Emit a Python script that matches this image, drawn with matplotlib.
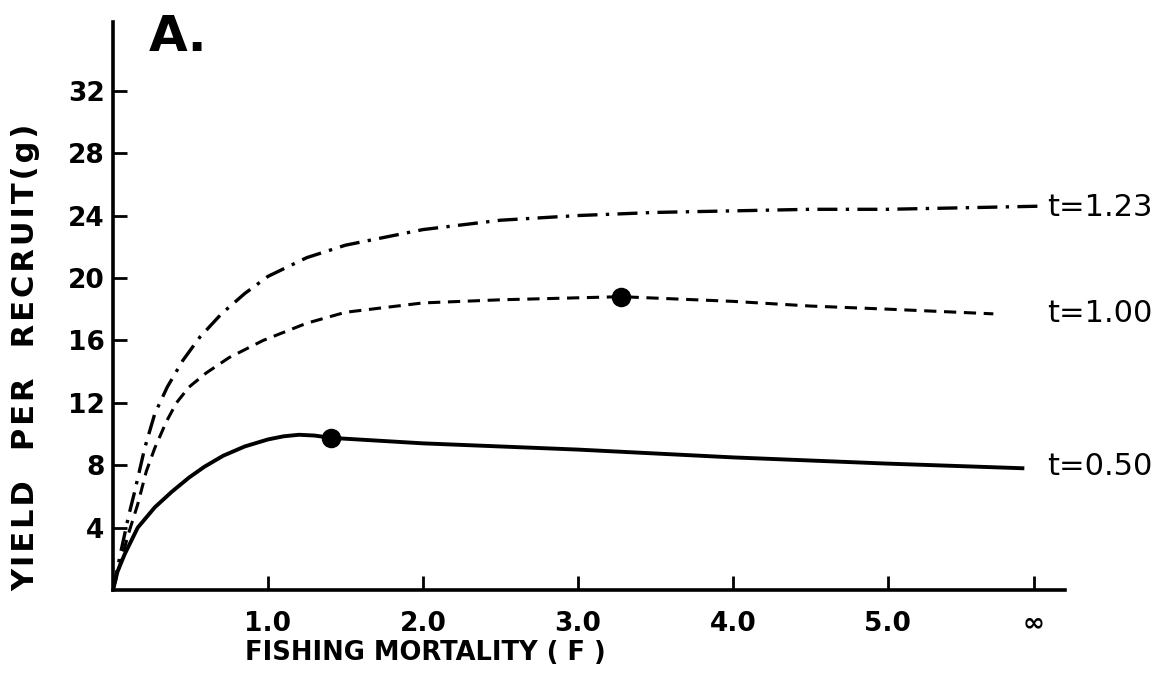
import numpy as np
import matplotlib
matplotlib.use("Agg")
import matplotlib.pyplot as plt

plt.rcParams['font.family'] = ['DejaVu Sans']

# yield-per-recruit curves read at fishing mortality values
f_050 = [0.0, 0.03, 0.076, 0.16, 0.27, 0.38, 0.49, 0.59, 0.71, 0.85, 1.0, 1.1, 1.2, 1.3,
         1.41, 2.0, 3.0, 4.0, 5.0, 5.88]
y_050 = [0.0, 1.2, 2.3, 4.0, 5.3, 6.3, 7.2, 7.9, 8.6, 9.2, 9.65, 9.85, 9.95, 9.9,
         9.75, 9.4, 9.0, 8.5, 8.1, 7.8]

f_100 = [0.0, 0.05, 0.1, 0.16, 0.215, 0.27, 0.345, 0.41, 0.49, 0.6, 0.75, 0.97, 1.25, 1.5,
         2.0, 2.5, 3.28, 4.0, 4.5, 5.0, 5.68]
y_100 = [0.0, 1.8, 3.6, 5.5, 7.6, 9.1, 10.8, 12.0, 13.0, 13.9, 14.9, 16.0, 17.1, 17.8,
         18.4, 18.6, 18.8, 18.5, 18.2, 18.0, 17.7]

f_123 = [0.0, 0.05, 0.1, 0.14, 0.205, 0.27, 0.35, 0.45, 0.56, 0.7, 0.85, 1.0, 1.25, 1.5,
         2.0, 2.5, 3.0, 3.5, 4.0, 4.5, 5.0, 5.5, 5.98]
y_123 = [0.0, 2.4, 4.7, 6.3, 9.1, 11.3, 13.0, 14.7, 16.2, 17.7, 19.0, 20.1, 21.3, 22.1,
         23.1, 23.7, 24.0, 24.2, 24.3, 24.4, 24.4, 24.5, 24.6]

# maximum-yield points on the t=0.50 and t=1.00 curves
peak_f = [1.41, 3.28]
peak_y = [9.75, 18.8]

curve_labels = ['t=1.23', 't=1.00', 't=0.50']
label_y = [24.5, 17.7, 7.9]

x_ticks = [1.0, 2.0, 3.0, 4.0, 5.0, 5.94]
x_ticklabels = ['1.0', '2.0', '3.0', '4.0', '5.0', '\u221e']
y_ticks = [4, 8, 12, 16, 20, 24, 28, 32]

fig = plt.figure(figsize=(11.62, 6.81), dpi=100)
ax = fig.add_axes([0.0972, 0.1336, 0.819, 0.834])

ax.plot(f_050, y_050, color='black', lw=2.8, solid_capstyle='butt', solid_joinstyle='round')
ax.plot(f_100, y_100, color='black', lw=2.2, linestyle=(0, (4, 2.5)))
ax.plot(f_123, y_123, color='black', lw=2.4, linestyle=(0, (6, 2.5, 1, 2.5)))
ax.scatter(peak_f, peak_y, s=170, color='black', zorder=5)

for lab, yv in zip(curve_labels, label_y):
    ax.text(6.03, yv, lab, fontsize=22, va='center', ha='left', clip_on=False)

ax.set_xlim(0, 6.14)
ax.set_ylim(0, 36.4)
ax.spines['top'].set_visible(False)
ax.spines['right'].set_visible(False)
for s in ['left', 'bottom']:
    ax.spines[s].set_linewidth(2.6)

ax.set_xticks(x_ticks)
ax.set_xticklabels(x_ticklabels)
ax.set_yticks(y_ticks)
ax.tick_params(axis='x', direction='in', length=10, width=2, pad=15, labelsize=19)
ax.tick_params(axis='y', direction='in', length=10, width=2, pad=6, labelsize=19)
for t in ax.get_xticklabels() + ax.get_yticklabels():
    t.set_fontweight('bold')

ax.set_xlabel('FISHING MORTALITY ( F )', fontsize=18.5, fontweight='bold')
ax.xaxis.set_label_coords(0.328, -0.088)

# slightly tracked axis title (hair spaces between characters)
ylab = '\u200a'.join('YIELD  PER  RECRUIT(g)')
ax.set_ylabel(ylab, fontsize=22, fontweight='bold')
ax.yaxis.set_label_coords(-0.076, 0.41)

fig.text(0.128, 0.945, 'A.', fontsize=36, fontweight='bold', va='center', ha='left')

fig.savefig('out.png', dpi=100)
